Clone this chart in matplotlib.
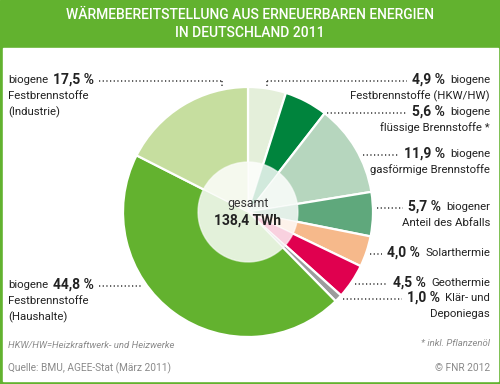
import numpy as np
import matplotlib.pyplot as plt
from matplotlib.patches import Rectangle
from matplotlib.colors import to_rgb

plt.rcParams['font.family'] = ['Roboto', 'DejaVu Sans']

# data (share of renewable heat, Germany 2011), clockwise from 12 o'clock
shares = [4.9, 5.6, 11.9, 5.7, 4.0, 4.5, 1.0, 44.8, 17.5]
colors = ['#e4efda', '#00843d', '#b6d6be', '#5fa87c', '#f6b98b',
          '#e0004f', '#9c9c9c', '#63b22f', '#c6de9f']
first_words = ['biogene', 'biogene', 'biogene', 'biogener', 'Solarthermie',
               'Geothermie', 'Klär- und', 'biogene', 'biogene']
rest_lines = [['Festbrennstoffe (HKW/HW)'], ['flüssige Brennstoffe *'],
              ['gasförmige Brennstoffe'], ['Anteil des Abfalls'], [], [],
              ['Deponiegas'], ['Festbrennstoffe', '(Haushalte)'],
              ['Festbrennstoffe', '(Industrie)']]
total_twh = 138.4

# layout in pixels (origin top left)
W, H = 500, 384
cx, cy, R = 248, 212, 125
label_y = [80, 112, 154, 207, 253, 283, 298, 285, 80]
label_side = ['r', 'r', 'r', 'r', 'r', 'r', 'r', 'l', 'l']
line_gap = 16
green = '#62b22f'
txt = '#222222'
grey = '#8a8a8a'
fs_txt = 8.2
fs_pct = 10

fig = plt.figure(figsize=(W / 100, H / 100), dpi=100)
ax0 = fig.add_axes([0, 0, 1, 1])
ax0.set_xlim(0, W)
ax0.set_ylim(H, 0)
ax0.axis('off')
ax0.add_patch(Rectangle((0, 0), W, H, color=green))
ax0.add_patch(Rectangle((2.5, 47.5), W - 5, 333, color='white'))

ax0.text(W / 2, 15, 'WÄRMEBEREITSTELLUNG AUS ERNEUERBAREN ENERGIEN',
         color='white', fontsize=10, fontweight='medium', ha='center', va='center')
ax0.text(W / 2, 33, 'IN DEUTSCHLAND 2011', color='white', fontsize=10,
         fontweight='medium', ha='center', va='center')

# pie
axp = fig.add_axes([(cx - R) / W, (H - cy - R) / H, 2 * R / W, 2 * R / H])
axp.pie(shares, colors=colors, startangle=90, counterclock=False, radius=1,
        wedgeprops=dict(edgecolor='white', linewidth=1.6))
light = [tuple(0.18 * np.array(to_rgb(c)) + 0.82) for c in colors]
axp.pie(shares, colors=light, startangle=90, counterclock=False, radius=0.4,
        wedgeprops=dict(edgecolor=(1, 1, 1, 0.6), linewidth=1.0))
axp.set_xlim(-1, 1)
axp.set_ylim(-1, 1)
axp.set_aspect('auto')
axp.axis('off')
axp.text(0, 0.07, 'gesamt', ha='center', va='center', fontsize=8.8, color='#333333')
axp.text(0, -0.065, f'{total_twh:.1f} TWh'.replace('.', ','), ha='center',
         va='center', fontsize=10, fontweight='bold', color=txt)

renderer = fig.canvas.get_renderer()
dot = dict(color='#333333', lw=1.1, linestyle=(0, (0.8, 1.6)))

for i, s in enumerate(shares):
    y = label_y[i]
    pct = f'{s:.1f} %'.replace('.', ',')
    if label_side[i] == 'r':
        t1 = ax0.text(490, y, first_words[i], ha='right', va='center',
                      fontsize=fs_txt, color=txt)
        w1 = t1.get_window_extent(renderer).width
        t2 = ax0.text(490 - w1 - 5, y, pct, ha='right', va='center',
                      fontsize=fs_pct, fontweight='bold', color=txt)
        x_end = 490 - w1 - 5 - t2.get_window_extent(renderer).width - 5
        for k, line in enumerate(rest_lines[i]):
            ax0.text(490, y + (k + 1) * line_gap, line, ha='right',
                     va='center', fontsize=fs_txt, color=txt)
        dy = y - cy
        if abs(dy) < R:
            x_start = cx + np.sqrt(R ** 2 - dy ** 2) + 4
            ax0.plot([x_start, x_end], [y + 1, y + 1], **dot)
        else:
            x_start = 267
            ax0.plot([x_start, x_end], [y + 1, y + 1], **dot)
            ax0.plot([x_start, x_start], [y + 1, cy - R + 1], **dot)
    else:
        t1 = ax0.text(8, y, first_words[i], ha='left', va='center',
                      fontsize=fs_txt, color=txt)
        w1 = t1.get_window_extent(renderer).width
        t2 = ax0.text(8 + w1 + 5, y, pct, ha='left', va='center',
                      fontsize=fs_pct, fontweight='bold', color=txt)
        x_start = 8 + w1 + 5 + t2.get_window_extent(renderer).width + 5
        for k, line in enumerate(rest_lines[i]):
            ax0.text(8, y + (k + 1) * line_gap, line, ha='left',
                     va='center', fontsize=fs_txt, color=txt)
        dy = y - cy
        if abs(dy) < R:
            x_end = cx - np.sqrt(R ** 2 - dy ** 2) - 4
            ax0.plot([x_start, x_end], [y + 1, y + 1], **dot)
        else:
            x_end = 222
            ax0.plot([x_start, x_end], [y + 1, y + 1], **dot)
            ax0.plot([x_end, x_end], [y + 1, cy - R + 1], **dot)

ax0.text(8, 345, 'HKW/HW=Heizkraftwerk- und Heizwerke', ha='left', va='center',
         fontsize=6.8, style='italic', color=grey)
ax0.text(8, 368, 'Quelle: BMU, AGEE-Stat (März 2011)', ha='left', va='center',
         fontsize=7.3, color=grey)
ax0.text(490, 343, '* inkl. Pflanzenöl', ha='right', va='center',
         fontsize=6.8, style='italic', color=grey)
ax0.text(490, 368, '© FNR 2012', ha='right', va='center', fontsize=7.3,
         color=grey)

plt.savefig('out.png', dpi=100)
